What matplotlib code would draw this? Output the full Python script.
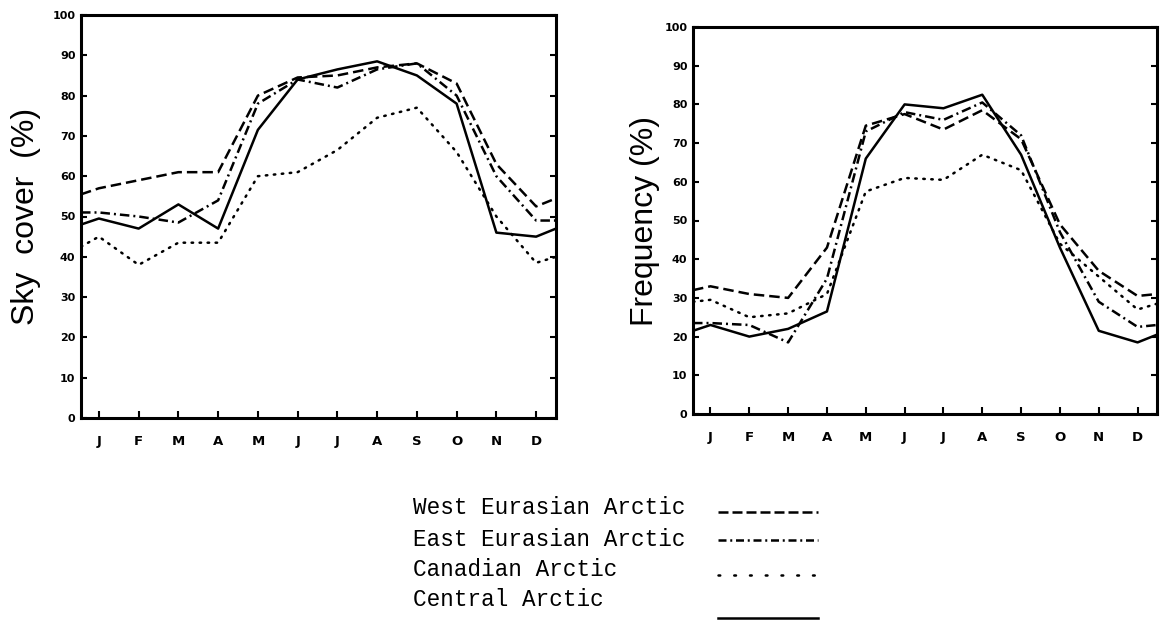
import matplotlib
matplotlib.use("Agg")
import matplotlib.pyplot as plt
from matplotlib.lines import Line2D
import numpy as np

months = ["J", "F", "M", "A", "M", "J", "J", "A", "S", "O", "N", "D"]
series_names = ["West Eurasian Arctic", "East Eurasian Arctic", "Canadian Arctic", "Central Arctic"]

# Sky cover (%) - left panel
sky_west_eur = [57, 59, 61, 61, 80, 84.5, 85, 87, 88, 83, 63, 52.5]
sky_east_eur = [51, 50, 48.5, 54, 78, 84, 82, 86.5, 88, 80, 60, 49]
sky_canadian = [45, 38, 43.5, 43.5, 60, 61, 66.5, 74.5, 77, 66, 50, 38.5]
sky_central = [49.5, 47, 53, 47, 71.5, 84, 86.5, 88.5, 85, 78, 46, 45]
# values where each curve meets the left / right frame
sky_left_edge = [55.5, 51, 42.5, 48]
sky_right_edge = [54.5, 49, 40, 47]

# Frequency (%) - right panel
freq_west_eur = [33, 31, 30, 43, 74.5, 77.5, 73.5, 78.5, 71, 49, 37, 30.5]
freq_east_eur = [23.5, 23, 18.5, 35, 73, 78, 76, 80.5, 72, 47, 29, 22.5]
freq_canadian = [29.5, 25, 26, 31, 57.5, 61, 60.5, 67, 63, 44, 35.5, 27]
freq_central = [23, 20, 22, 26.5, 66, 80, 79, 82.5, 67, 43, 21.5, 18.5]
freq_left_edge = [32, 23.5, 29, 21.5]
freq_right_edge = [31, 23, 28.5, 20.5]

LW = 1.8
styles = [
    dict(linestyle=(0, (4.2, 2.0))),
    dict(linestyle=(0, (3.8, 1.6, 0.8, 1.6))),
    dict(linestyle=(0, (0.6, 2.6)), dash_capstyle="round"),
    dict(linestyle="-"),
]
legend_styles = [
    dict(linestyle=(0, (4.0, 1.6))),
    dict(linestyle=(0, (3.2, 1.5, 0.8, 1.5))),
    dict(linestyle=(0, (0.7, 5.6)), dash_capstyle="round"),
    dict(linestyle="-"),
]

XLIM = (0.55, 12.5)

fig = plt.figure(figsize=(11.61, 6.22), dpi=100)
ax1 = fig.add_axes([81 / 1161, 1 - 418 / 622, 475 / 1161, 403 / 622])
ax2 = fig.add_axes([693 / 1161, 1 - 414 / 622, 464 / 1161, 387 / 622])

def draw(ax, data, left_edge, right_edge, ylabel, label_x):
    x = np.arange(1, 13)
    for vals, le, re, st in zip(data, left_edge, right_edge, styles):
        xs = np.concatenate([[XLIM[0]], x, [XLIM[1]]])
        ys = np.concatenate([[le], vals, [re]])
        ax.plot(xs, ys, color="black", lw=LW, **st)
    ax.set_xlim(*XLIM)
    ax.set_ylim(0, 100)
    ax.set_xticks(x)
    ax.set_xticklabels(months, fontweight="bold", fontsize=9.5)
    ax.set_yticks(np.arange(0, 101, 10))
    ax.set_yticklabels([str(v) for v in range(0, 101, 10)], fontweight="bold", fontsize=8)
    ax.tick_params(axis="x", direction="in", length=5, width=1.5, pad=12, top=False)
    ax.tick_params(axis="y", direction="in", length=4, width=1.5, pad=4, right=True)
    for s in ax.spines.values():
        s.set_linewidth(2.2)
    ax.set_ylabel(ylabel, fontsize=23, family="Liberation Sans")
    ax.yaxis.set_label_coords(label_x, 0.5)

draw(ax1, [sky_west_eur, sky_east_eur, sky_canadian, sky_central],
     sky_left_edge, sky_right_edge, "Sky  cover  (%)", -0.085)
draw(ax2, [freq_west_eur, freq_east_eur, freq_canadian, freq_central],
     freq_left_edge, freq_right_edge, "Frequency (%)", -0.072)

# legend (text left, line sample right)
text_y = [508, 539, 570, 600]
line_y = [512, 540, 575, 618]
for name, ty, ly, st in zip(series_names, text_y, line_y, legend_styles):
    fig.text(413 / 1161, 1 - ty / 622, name, family="Liberation Mono", fontsize=16.3,
             va="center", ha="left")
    fig.add_artist(Line2D([718 / 1161, 818 / 1161], [1 - ly / 622] * 2,
                          transform=fig.transFigure, color="black", lw=LW, **st))

fig.savefig("out.png", dpi=100)
